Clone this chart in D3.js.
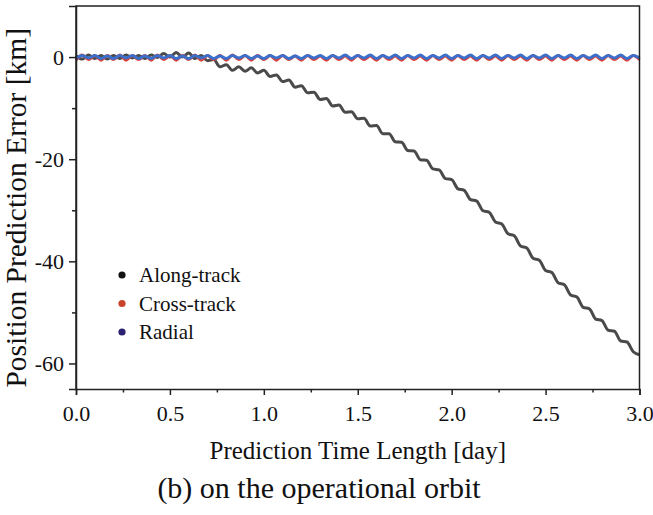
<!DOCTYPE html>
<html>
<head>
<meta charset="utf-8">
<script src="https://cdn.jsdelivr.net/npm/d3@7"></script>
<style>
  body { margin: 0; background: #fff; }
  svg { display: block; font-family: "Liberation Serif", "Times New Roman", serif; }
</style>
</head>
<body>
<div id="chart"></div>
<script>
// prediction time grid (day), one sample every 0.8 h
const days = d3.range(91).map(i => i / 30);

// along-track error [km]
const alongTrack = [
  0.3, -0.4, 0.4, -0.3, 0.3, -0.4, 0.3, -0.3, 0.4, -0.2,
  0.3, -0.3, 0.4, -0.1, 0.7, 0.0, 0.9, 0.0, 0.8, -0.3,
  0.3, -0.7, -0.5, -1.9, -1.5, -2.6, -1.9, -2.8, -2.1, -3.1,
  -2.6, -3.8, -3.5, -4.8, -4.5, -5.9, -5.6, -7.0, -6.9, -8.3,
  -8.1, -9.6, -9.4, -10.8, -10.7, -12.1, -12.0, -13.5, -13.4, -15.0,
  -15.0, -16.6, -16.7, -18.3, -18.4, -20.1, -20.2, -21.9, -22.1, -23.8,
  -24.0, -25.8, -26.1, -27.9, -28.2, -30.1, -30.4, -32.3, -32.7, -34.6,
  -35.0, -37.0, -37.4, -39.4, -39.8, -41.8, -42.2, -44.2, -44.6, -46.6,
  -47.0, -49.0, -49.3, -51.3, -51.6, -53.5, -53.7, -55.6, -55.8, -57.7,
  -58.3
];

// cross-track error [km]
const crossTrack = [
  -0.6, 0.4, -0.5, 0.3, -0.6, 0.3, -0.5, 0.4, -0.6, 0.3,
  -0.5, 0.3, -0.6, 0.4, -0.5, 0.3, -0.6, 0.3, -0.5, 0.4,
  -0.6, 0.3, -0.5, 0.3, -0.6, 0.4, -0.5, 0.3, -0.6, 0.3,
  -0.5, 0.3, -0.6, 0.3, -0.5, 0.2, -0.6, 0.3, -0.5, 0.2,
  -0.6, 0.3, -0.5, 0.2, -0.6, 0.3, -0.5, 0.2, -0.6, 0.3,
  -0.5, 0.2, -0.6, 0.3, -0.5, 0.2, -0.6, 0.3, -0.5, 0.2,
  -0.6, 0.3, -0.5, 0.2, -0.6, 0.3, -0.5, 0.2, -0.6, 0.3,
  -0.5, 0.2, -0.6, 0.3, -0.5, 0.2, -0.6, 0.3, -0.5, 0.2,
  -0.6, 0.3, -0.5, 0.2, -0.6, 0.3, -0.5, 0.2, -0.6, 0.3,
  -0.5
];

// radial error [km]
const radial = [
  -0.3, 0.3, -0.2, 0.3, -0.3, 0.2, -0.3, 0.3, -0.2, 0.3,
  -0.3, 0.2, -0.3, 0.3, -0.2, 0.3, -0.3, 0.2, -0.3, 0.3,
  -0.2, 0.3, -0.3, 0.2, -0.3, 0.3, -0.2, 0.3, -0.3, 0.2,
  -0.3, 0.3, -0.2, 0.3, -0.3, 0.2, -0.3, 0.3, -0.2, 0.3,
  -0.3, 0.3, -0.2, 0.4, -0.3, 0.3, -0.2, 0.4, -0.3, 0.3,
  -0.2, 0.4, -0.3, 0.3, -0.2, 0.4, -0.3, 0.3, -0.2, 0.4,
  -0.3, 0.3, -0.2, 0.4, -0.3, 0.3, -0.2, 0.4, -0.3, 0.3,
  -0.2, 0.4, -0.3, 0.3, -0.2, 0.4, -0.3, 0.3, -0.2, 0.4,
  -0.3, 0.3, -0.2, 0.4, -0.3, 0.3, -0.2, 0.4, -0.3, 0.3,
  -0.2
];

const seriesNames = ['Along-track', 'Cross-track', 'Radial'];
const xTicks = [0, 0.5, 1, 1.5, 2, 2.5, 3];
const xMinorTicks = [0.25, 0.75, 1.25, 1.75, 2.25, 2.75];
const yTicks = [-60, -40, -20, 0];
const yMinorTicks = [-50, -30, -10];

const lineColors = ['#4a4a4a', '#d8433d', '#3b6fcc'];
const dotColors = ['#111111', '#c8432a', '#2a2270'];
const serif = '"Liberation Serif", "Times New Roman", serif';

const width = 653, height = 515;
const margin = { top: 6, right: 13.5, bottom: 126, left: 76 };
const w = width - margin.left - margin.right;
const h = height - margin.top - margin.bottom;

const svg = d3.select('#chart').append('svg')
  .attr('width', width)
  .attr('height', height);

const g = svg.append('g').attr('transform', `translate(${margin.left},${margin.top})`);

const x = d3.scaleLinear().domain([0, 3]).range([0, w]);
const y = d3.scaleLinear().domain([-65, 10]).range([h, 0]);

// lines
const series = [alongTrack, crossTrack, radial];
const line = d3.line()
  .x((d, i) => x(days[i]))
  .y(d => y(d))
  .curve(d3.curveMonotoneX);

g.selectAll('.series')
  .data(series)
  .join('path')
  .attr('class', 'series')
  .attr('d', d => line(d))
  .attr('fill', 'none')
  .attr('stroke', (d, i) => lineColors[i])
  .attr('stroke-width', 3)
  .attr('stroke-linejoin', 'round');

// frame
g.append('path')
  .attr('d', `M0,${h}V0H${w}V${h}`)
  .attr('fill', 'none')
  .attr('stroke', '#222')
  .attr('stroke-width', 1.5);

// x axis
g.append('g')
  .attr('transform', `translate(0,${h})`)
  .call(d3.axisBottom(x).tickValues(xTicks).tickFormat(d3.format('.1f')).tickSize(6).tickPadding(10));
g.append('g')
  .attr('transform', `translate(0,${h})`)
  .call(d3.axisBottom(x).tickValues(xMinorTicks).tickFormat('').tickSize(3.5))
  .call(a => a.select('.domain').remove());

// y axis
g.append('g')
  .call(d3.axisLeft(y).tickValues(yTicks).tickFormat(d => String(d)).tickSize(7).tickPadding(5));
g.append('g')
  .call(d3.axisLeft(y).tickValues(yMinorTicks).tickFormat('').tickSize(4))
  .call(a => a.select('.domain').remove());

g.selectAll('.tick').select(function () { return this.parentNode; })
  .attr('font-family', serif)
  .attr('font-size', 22);
g.selectAll('.domain, .tick line').attr('stroke', '#222').attr('stroke-width', 1.5);
g.selectAll('.tick text')
  .attr('fill', '#111')
  .style('font-family', serif)
  .style('font-size', '22px');

// axis titles
svg.append('text')
  .attr('x', margin.left + w / 2)
  .attr('y', 459)
  .attr('text-anchor', 'middle')
  .attr('fill', '#111')
  .style('font-size', '25px')
  .text('Prediction Time Length [day]');

svg.append('text')
  .attr('transform', `translate(26,${margin.top + y(-29.5)}) rotate(-90)`)
  .attr('text-anchor', 'middle')
  .attr('fill', '#111')
  .style('font-size', '29.5px')
  .text('Position Prediction Error [km]');

// caption
svg.append('text')
  .attr('x', 319)
  .attr('y', 498)
  .attr('text-anchor', 'middle')
  .attr('fill', '#111')
  .style('font-size', '30px')
  .text('(b) on the operational orbit');

// legend
const legend = svg.append('g').attr('transform', 'translate(122,275)');
const items = legend.selectAll('g')
  .data(seriesNames)
  .join('g')
  .attr('transform', (d, i) => `translate(0,${i * 28.5})`);
items.append('circle')
  .attr('r', 3.6)
  .attr('fill', (d, i) => dotColors[i]);
items.append('text')
  .attr('x', 17)
  .attr('y', 7)
  .attr('fill', '#111')
  .style('font-size', '21px')
  .text(d => d);
</script>
</body>
</html>
